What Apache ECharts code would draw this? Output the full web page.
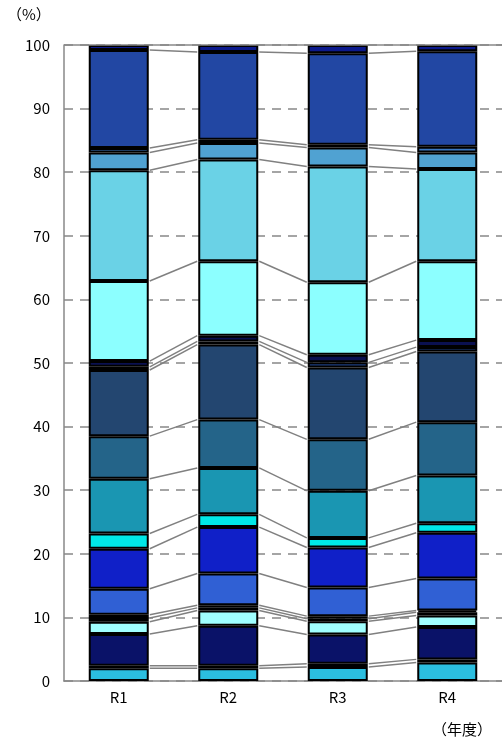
<!DOCTYPE html>
<html>
<head>
<meta charset="utf-8">
<script src="https://cdn.jsdelivr.net/npm/echarts@6/dist/echarts.min.js"></script>
<style>
html,body{margin:0;padding:0;background:#fff;}
#chart{width:502px;height:744px;}
</style>
</head>
<body>
<div id="chart"></div>
<script>
// Categories (fiscal years)
const categories = ['R1', 'R2', 'R3', 'R4'];
// Y-axis tick labels
const yTicks = [0, 10, 20, 30, 40, 50, 60, 70, 80, 90, 100];
// Segment shares (%) from bottom to top, per year
const valuesR1 = [2.0, 0.4, 5.0, 1.9, 0.6, 0.5, 4.1, 6.3, 2.4, 8.6, 6.7, 10.4, 0.5, 0.9, 12.6, 17.4, 2.8, 0.7, 15.4, 0.8];
const valuesR2 = [2.0, 0.4, 6.3, 2.4, 0.4, 0.4, 5.0, 7.3, 2.0, 7.3, 7.6, 11.8, 0.5, 0.9, 11.7, 16.0, 2.6, 0.5, 13.8, 1.1];
const valuesR3 = [2.2, 0.5, 4.6, 2.1, 0.4, 0.4, 4.5, 6.3, 1.5, 7.4, 8.1, 11.3, 0.8, 1.2, 11.4, 18.2, 3.0, 0.4, 14.4, 1.3];
const valuesR4 = [2.9, 0.5, 5.1, 1.8, 0.5, 0.3, 5.0, 7.2, 1.5, 7.5, 8.4, 11.1, 0.7, 1.1, 12.4, 14.5, 2.6, 0.9, 15.0, 1.0];
// Segment colours, bottom to top
const segmentColors = ['#2BBEE0', '#1F4E9A', '#0A1268', '#A0FFFF', '#0A0A40', '#4A7FC8', '#3060D4', '#1020C8', '#00E8E8', '#1A96B2',
                       '#246489', '#234670', '#1D3C7C', '#0A1050', '#8CFFFF', '#6AD2E6', '#50A2D2', '#3C78C0', '#2247A3', '#0C1A8C'];

const allValues = [valuesR1, valuesR2, valuesR3, valuesR4];
const BAR_W = 60;
const FONT = '"Noto Sans CJK JP", sans-serif';
const series = [];
segmentColors.forEach(function (c, k) {
  series.push({
    type: 'bar',
    stack: 'total',
    barWidth: BAR_W,
    data: allValues.map(function (v) { return v[k]; }),
    itemStyle: { color: c, borderColor: '#000', borderWidth: 2 },
    emphasis: { disabled: true },
    silent: true,
    z: 3
  });
});
// cumulative tops
const cums = allValues.map(function (v) {
  let s = 0; return v.map(function (x) { s += x; return s; });
});
// connector data: top of each segment (except 100 top)
const connData = [];
for (let k = 0; k < segmentColors.length - 1; k++) {
  for (let i = 0; i < categories.length - 1; i++) {
    connData.push([i, cums[i][k], cums[i + 1][k]]);
  }
}
series.push({
  type: 'custom',
  silent: true,
  z: 2,
  renderItem: function (params, api) {
    const i = api.value(0);
    const p1 = api.coord([i, api.value(1)]);
    const p2 = api.coord([i + 1, api.value(2)]);
    const hw = BAR_W / 2 + 1;
    return {
      type: 'line',
      shape: { x1: p1[0] + hw, y1: p1[1], x2: p2[0] - hw, y2: p2[1] },
      style: { stroke: '#808080', lineWidth: 1.5 }
    };
  },
  encode: { x: 0, y: [1, 2] },
  data: connData
});
// top frame line at 100
series[0].markLine = {
  silent: true, symbol: 'none', label: { show: false },
  lineStyle: { color: '#888', type: 'solid', width: 1.5 },
  data: [{ yAxis: 100 }]
};

const chart = echarts.init(document.getElementById('chart'), null, { renderer: 'canvas' });
chart.setOption({
  animation: false,
  backgroundColor: '#fff',
  textStyle: { fontFamily: FONT },
  grid: { left: 64, right: 0, top: 45, bottom: 63, containLabel: false },
  xAxis: {
    type: 'category',
    data: categories,
    axisLine: { lineStyle: { color: '#888', width: 1.5 } },
    axisTick: { show: false },
    axisLabel: { color: '#000', fontSize: 15, margin: 9, fontFamily: FONT }
  },
  yAxis: {
    type: 'value',
    min: yTicks[0], max: yTicks[yTicks.length - 1], interval: 10,
    axisLine: { show: true, lineStyle: { color: '#888', width: 1.5 } },
    axisTick: { show: false },
    axisLabel: { color: '#000', fontSize: 15, margin: 14, fontFamily: FONT },
    splitLine: { show: true, lineStyle: { color: '#888', type: [9, 7], width: 1.5 } }
  },
  graphic: [
    { type: 'text', left: 7, top: 7, style: { text: '（%）', fill: '#000', font: '15px ' + FONT } },
    { type: 'text', right: 10, top: 722, style: { text: '（年度）', fill: '#000', font: '15px ' + FONT } }
  ],
  series: series
});
</script>
</body>
</html>
